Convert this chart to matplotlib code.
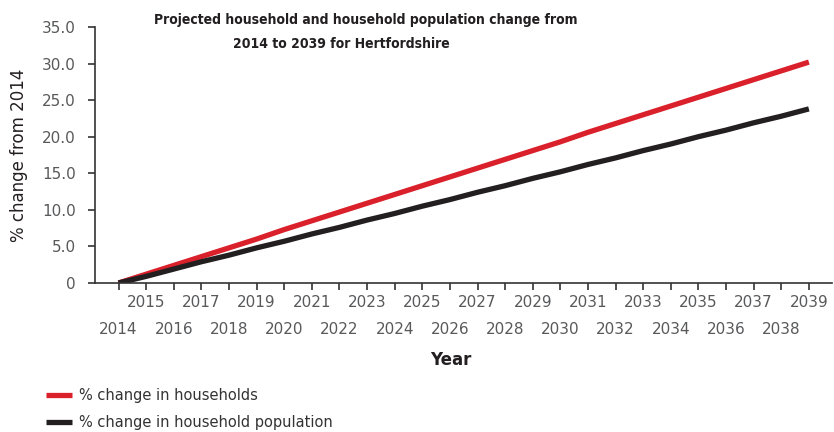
import matplotlib
matplotlib.use('Agg')
import matplotlib.pyplot as plt

years = list(range(2014, 2040))
households = [0.0, 1.2, 2.4, 3.6, 4.8, 6.0, 7.3, 8.5, 9.7, 10.9, 12.1, 13.3, 14.5,
              15.7, 16.9, 18.1, 19.3, 20.6, 21.8, 23.0, 24.2, 25.4, 26.6, 27.8, 29.0, 30.2]
household_pop = [0.0, 0.9, 1.9, 2.9, 3.8, 4.8, 5.7, 6.7, 7.6, 8.6, 9.5, 10.5, 11.4,
                 12.4, 13.3, 14.3, 15.2, 16.2, 17.1, 18.1, 19.0, 20.0, 20.9, 21.9, 22.8, 23.8]
yticks = [0, 5, 10, 15, 20, 25, 30, 35]
ytick_labels = ['0', '5.0', '10.0', '15.0', '20.0', '25.0', '30.0', '35.0']

RED = '#d9202b'
BLACK = '#231f20'
GREY = '#58595b'

fig = plt.figure(figsize=(8.34, 4.32), dpi=100)
ax = fig.add_axes([0.114, 0.345, 0.884, 0.5925])

ax.plot(years, households, color=RED, lw=3.8, solid_capstyle='butt', label='% change in households')
ax.plot(years, household_pop, color=BLACK, lw=3.8, solid_capstyle='butt', label='% change in household population')

ax.set_xlim(2013.15, 2039.85)
ax.set_ylim(0, 35)
ax.set_yticks(yticks)
ax.set_yticklabels(ytick_labels, color=GREY, fontsize=11)

# odd years on the top row, even years on the second row
odd = [y for y in years if y % 2]
even = [y for y in years if y % 2 == 0]
ax.set_xticks(odd)
ax.set_xticklabels([str(y) for y in odd], color=GREY, fontsize=11)
ax.set_xticks(even, minor=True)
ax.set_xticklabels([str(y) for y in even], minor=True, color=GREY, fontsize=11)
ax.tick_params(axis='both', which='both', direction='out', length=5, width=1.2, color='#333333')
ax.tick_params(axis='x', which='major', pad=4)
ax.tick_params(axis='x', which='minor', pad=23)
ax.tick_params(axis='y', pad=9)

for s in ['top', 'right']:
    ax.spines[s].set_visible(False)
for s in ['left', 'bottom']:
    ax.spines[s].set_linewidth(1.2)
    ax.spines[s].set_color('#333333')

ax.set_ylabel('% change from 2014', fontsize=12, color='#231f20', labelpad=10)
fig.text(0.54, 0.167, 'Year', ha='center', va='center', fontsize=12, fontweight='bold', color='#231f20')

fig.text(0.438, 0.953, 'Projected household and household population change from',
         ha='center', va='center', fontsize=10, fontweight='bold', stretch='condensed',
         family='DejaVu Sans', color='#231f20')
fig.text(0.409, 0.898, '2014 to 2039 for Hertfordshire',
         ha='center', va='center', fontsize=10, fontweight='bold', stretch='condensed',
         family='DejaVu Sans', color='#231f20')

leg = fig.legend(loc='upper left', bbox_to_anchor=(0.055, 0.102), frameon=False,
                 fontsize=10.5, handlelength=1.8, handletextpad=0.45, labelspacing=0.85,
                 borderaxespad=0, borderpad=0)
for t in leg.get_texts():
    t.set_color('#333333')

fig.savefig('out.png', dpi=100)
